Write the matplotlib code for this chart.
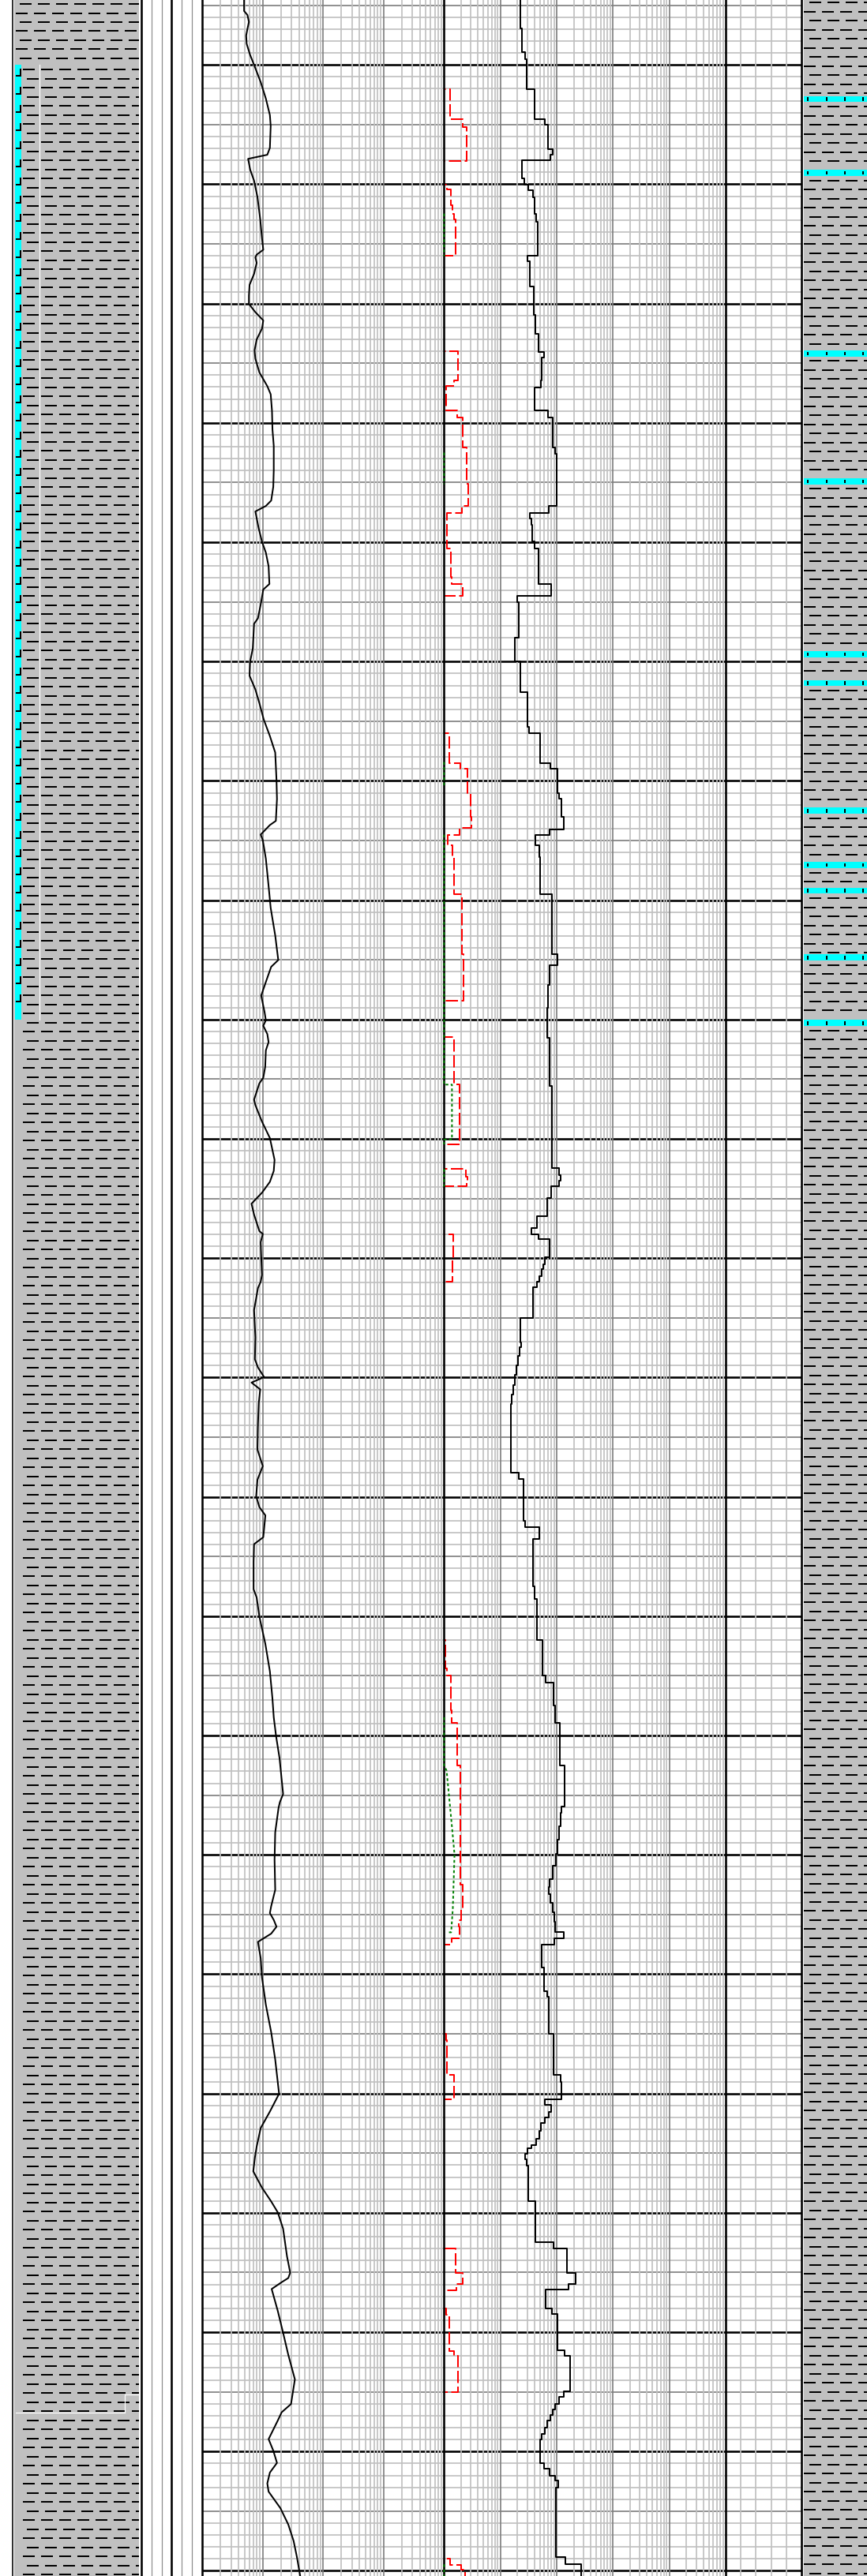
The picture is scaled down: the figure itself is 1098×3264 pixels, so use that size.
import numpy as np
import matplotlib
matplotlib.use("Agg")
import matplotlib.pyplot as plt
from matplotlib.collections import LineCollection
from matplotlib.patches import Rectangle

plt.rcParams['lines.scale_dashes'] = False

# ---------------------------------------------------------------- depth window (m)
DEPTH_TOP = 1994.56
DEPTH_BOT = 2210.43

# ---------------------------------------------------------------- gamma ray (track 1, linear 0-150)
gr_depth = [1994.56, 1995.48, 1995.82, 1996.40, 1996.97, 1997.54, 1998.23, 1999.15, 2000.00, 2001.44,
            2002.82, 2004.20, 2005.12, 2006.95, 2007.53, 2007.87, 2008.79, 2009.70, 2011.08, 2012.92,
            2014.52, 2015.49, 2015.90, 2016.13, 2016.59, 2017.51, 2018.43, 2019.34, 2020.03, 2020.72,
            2021.41, 2022.10, 2023.01, 2023.93, 2024.62, 2025.77, 2026.92, 2027.60, 2028.98, 2030.54,
            2031.92, 2033.98, 2035.36, 2036.51, 2036.96, 2037.42, 2038.80, 2039.95, 2040.87, 2042.01,
            2043.50, 2043.96, 2045.22, 2046.37, 2046.83, 2048.90, 2050.04, 2051.19, 2052.34, 2053.49,
            2054.86, 2056.24, 2057.62, 2059.91, 2061.52, 2063.35, 2063.70, 2064.50, 2064.96, 2066.52,
            2068.81, 2070.65, 2072.95, 2075.01, 2075.58, 2076.85, 2077.99, 2079.37, 2080.06, 2080.52,
            2081.21, 2081.89, 2082.58, 2083.96, 2084.88, 2085.34, 2086.71, 2087.17, 2088.55, 2089.93,
            2091.76, 2092.68, 2093.60, 2094.51, 2095.43, 2096.35, 2097.73, 2097.96, 2098.65, 2099.79,
            2101.40, 2101.97, 2102.50,
            2104.34, 2106.63, 2108.47, 2109.15, 2109.96, 2110.42, 2110.99, 2112.14, 2113.97, 2116.04,
            2117.42, 2118.56, 2119.94, 2120.86, 2121.55, 2123.38, 2123.96, 2125.45, 2127.74, 2128.43,
            2130.04, 2132.33, 2134.62, 2136.92, 2138.47,
            2140.01, 2141.91, 2144.90, 2145.58, 2146.04, 2148.11, 2150.40, 2152.93, 2154.30, 2154.88,
            2155.45, 2156.02, 2156.60, 2157.29, 2158.66, 2160.27, 2162.56, 2164.86, 2167.15, 2170.02,
            2171.51, 2172.89, 2174.45,
            2175.37, 2176.52, 2177.89, 2179.04, 2179.96, 2181.33, 2183.63, 2185.01, 2185.46, 2185.81,
            2186.38, 2188.22, 2190.05, 2191.89, 2193.95, 2196.02, 2196.71, 2197.40, 2198.96, 2199.92,
            2200.95, 2201.76, 2202.67, 2203.36, 2204.74, 2206.11, 2207.49, 2208.87, 2210.43]
gr_value = [26.0, 26.0, 28.1, 29.0, 28.1, 27.3, 27.6, 29.7, 32.2, 36.3,
            39.5, 42.0, 42.5, 42.0, 40.4, 28.5, 29.8, 32.2, 34.3, 36.0,
            37.1, 37.9, 33.8, 33.0, 33.8, 32.2, 29.4, 29.0, 29.0, 33.0,
            37.9, 37.1, 33.8, 32.5, 33.0, 35.5, 40.4, 42.5, 43.3, 43.6,
            44.4, 44.4, 44.1, 42.8, 39.5, 33.0, 35.0, 37.1, 39.5, 41.2,
            41.7, 37.9, 36.3, 34.6, 32.2, 31.4, 29.7, 29.4, 33.0, 35.5,
            38.2, 42.0, 45.3, 46.1, 46.4, 45.7, 42.0, 36.3, 37.6, 39.5,
            41.2, 42.5, 45.3, 47.2, 42.8, 39.5, 36.6, 38.7, 39.5, 37.9,
            40.4, 41.2, 39.5, 39.1, 37.9, 35.5, 32.2, 33.0, 37.1, 42.0,
            44.9, 44.4, 42.0, 37.1, 30.6, 32.2, 35.5, 37.6, 36.3, 36.6,
            37.1, 36.3, 34.6,
            32.2, 33.0, 32.7, 34.6, 38.4, 30.6, 36.0, 35.1, 34.6, 34.3,
            37.6, 34.3, 33.5, 35.5, 39.2, 37.9, 32.2, 31.9, 31.9, 33.8,
            35.5, 39.2, 42.0, 43.6, 44.4,
            45.8, 48.0, 50.2, 48.2, 47.4, 45.3, 44.9, 45.3, 42.8, 42.0,
            44.4, 46.1, 42.8, 34.6, 36.3, 37.1, 39.5, 42.8, 45.3, 47.7,
            42.0, 36.3, 33.8,
            32.7, 31.7, 37.1, 42.8, 46.9, 50.2, 52.6, 54.6, 53.4, 49.3,
            43.1, 46.9, 50.2, 53.4, 57.5, 55.1, 49.3, 46.9, 41.2, 44.1,
            46.4, 42.0, 40.4, 41.2, 48.5, 53.4, 56.7, 58.8, 60.8]

# ---------------------------------------------------------------- blocked log (track 2, linear 0-100)
blk_top = [1994.56, 1996.97, 1998.92, 1999.49, 2002.02, 2002.59, 2004.54, 2005.00, 2007.07, 2007.53,
           2007.99, 2009.48, 2010.05, 2010.51, 2011.08, 2012.46, 2013.15, 2016.02, 2016.48, 2018.54,
           2020.95, 2022.56, 2024.05, 2024.51, 2026.46, 2027.03, 2028.98, 2029.56, 2032.03, 2032.61,
           2036.97, 2037.54, 2038.00, 2038.57, 2039.95, 2040.52, 2043.51, 2044.47, 2045.00, 2047.98,
           2050.00, 2052.53, 2055.44, 2056.01, 2058.54, 2058.99, 2061.06, 2061.52, 2063.01, 2064.05,
           2064.51, 2065.42, 2066.40, 2069.50, 2074.55, 2075.47, 2077.08, 2079.03, 2081.55, 2085.57,
           2092.45, 2093.03, 2093.49, 2093.94, 2094.98, 2096.47, 2097.50, 2098.01, 2098.42, 2099.91,
           2100.49, 2100.94, 2101.52, 2101.98, 2102.40, 2105.02, 2107.09, 2107.43, 2108.20, 2109.00,
           2109.80, 2110.60, 2111.40, 2112.20, 2113.00, 2117.99, 2118.50, 2122.01, 2122.51, 2123.50,
           2127.52, 2128.55, 2131.99, 2134.97, 2135.55, 2137.50, 2138.93, 2142.49, 2145.93, 2146.50,
           2147.60, 2148.70, 2149.90, 2150.90, 2152.00, 2152.70, 2153.30, 2154.00, 2154.80, 2155.60,
           2156.49, 2157.01, 2157.52, 2159.47, 2161.42, 2161.88, 2164.98, 2168.42, 2169.00, 2170.49,
           2170.95, 2171.52, 2171.98, 2172.44, 2173.13, 2173.81, 2174.30, 2174.56, 2175.02, 2175.48,
           2176.06, 2179.04, 2182.48, 2182.99, 2185.01, 2185.93, 2186.43, 2187.99, 2188.50, 2191.50,
           2192.01, 2194.94, 2195.45, 2196.02, 2196.48, 2196.94, 2197.40, 2197.97, 2198.55, 2199.01,
           2200.96, 2201.42, 2202.00, 2202.45, 2203.02, 2208.87, 2209.45]
blk_value = [27.1, 27.6, 28.7, 29.4, 32.0, 32.2, 35.7, 36.8, 38.5, 37.8,
             27.6, 28.4, 29.9, 31.5, 32.2, 32.7, 33.2, 29.6, 30.4, 31.8,
             32.3, 33.4, 35.4, 34.8, 34.3, 32.0, 36.9, 38.6, 39.5, 40.1,
             37.3, 30.4, 30.9, 31.3, 32.2, 33.4, 38.1, 25.9, 26.5, 25.2,
             27.1, 29.5, 30.1, 34.0, 37.8, 40.4, 40.9, 41.8, 42.4, 37.4,
             32.4, 33.8, 34.1, 38.3, 40.2, 37.6, 36.9, 36.5, 37.4, 38.3,
             40.7, 41.3, 40.9, 37.9, 36.5, 32.9, 31.0, 33.4, 37.4, 35.7,
             35.2, 34.6, 33.8, 32.9, 31.7, 27.0, 27.3, 26.9, 26.3, 25.6,
             25.0, 24.5, 24.1, 23.8, 23.6, 26.6, 28.1, 28.7, 33.7, 31.7,
             32.2, 32.9, 35.0, 36.0, 38.8, 39.5, 41.1, 42.9, 41.8, 41.5,
             40.9, 40.3, 39.7, 38.7, 37.6, 37.1, 37.8, 38.6, 39.1, 39.5,
             42.4, 39.2, 34.8, 35.5, 36.5, 37.1, 38.8, 41.3, 41.8, 35.7,
             38.1, 37.1, 35.7, 34.3, 33.7, 32.7, 31.0, 29.6, 28.7, 29.2,
             29.9, 32.4, 39.0, 43.7, 46.8, 44.1, 36.0, 38.3, 40.2, 42.7,
             44.8, 42.4, 40.9, 39.5, 38.5, 37.8, 36.7, 35.7, 34.8, 34.1,
             35.5, 37.4, 39.3, 40.6, 39.6, 43.2, 48.6]

# ---------------------------------------------------------------- deep resistivity (red, track 2)
rd_top = [1994.56, 2002.02, 2004.54, 2005.23, 2008.03, 2010.05, 2010.40, 2011.77, 2012.46, 2012.92,
          2016.02, 2024.00, 2026.46, 2026.92, 2028.98, 2029.56, 2032.03, 2035.13, 2036.97, 2037.54,
          2040.52, 2042.93, 2043.51, 2044.47, 2056.01, 2058.49, 2058.99, 2061.06, 2063.01, 2063.93,
          2064.51, 2065.42, 2066.40, 2069.50, 2074.55, 2078.45, 2081.44, 2085.45, 2090.46, 2092.52,
          2093.14, 2093.49, 2093.99, 2098.01, 2100.03, 2101.98, 2131.99, 2134.40, 2134.97, 2137.90,
          2138.93, 2142.49, 2152.47, 2154.54, 2155.45, 2156.03, 2157.01, 2157.52, 2164.98, 2165.55,
          2168.42, 2170.49, 2182.99, 2185.01, 2185.93, 2186.50, 2187.99, 2188.56, 2191.55, 2192.01,
          2194.99, 2208.99, 2209.52, 2209.91]
rd_value = [0.0, 2.1, 6.7, 8.1, 0.0, 0.9, 2.3, 3.0, 3.5, 4.1,
            0.0, 5.0, 3.5, 0.7, 4.7, 6.7, 8.1, 8.6, 6.3, 1.1,
            2.5, 2.8, 6.5, 0.0, 1.9, 5.8, 8.3, 9.3, 9.7, 5.6,
            1.3, 3.0, 3.5, 6.2, 7.0, 0.0, 3.6, 5.6, 0.0, 7.7,
            8.3, 7.9, 0.0, 3.2, 2.9, 0.0, 0.5, 0.9, 2.3, 2.8,
            4.7, 5.8, 6.7, 6.1, 5.1, 5.5, 2.8, 0.0, 0.7, 1.1,
            3.4, 0.0, 4.1, 6.5, 4.4, 0.0, 0.8, 1.8, 3.5, 5.0,
            0.0, 2.1, 6.1, 7.4]

# ---------------------------------------------------------------- shallow resistivity (green, track 2)
rs_depth = [2012.46, 2016.02, np.nan,
            2032.49, 2035.13, np.nan,
            2058.42, 2060.37, np.nan,
            2064.51, 2085.45, 2085.45, 2090.05, 2090.05, 2090.46, np.nan,
            2092.52, 2093.99, np.nan,
            2138.47, 2142.49, 2142.95, 2147.65, 2149.95, 2154.54, 2156.49, 2156.49, np.nan,
            2209.45, 2210.43]
rs_value = [0.0, 0.0, np.nan,
            0.0, 0.0, np.nan,
            0.0, 0.0, np.nan,
            0.0, 0.0, 2.8, 2.8, 0.0, 0.0, np.nan,
            0.0, 0.0, np.nan,
            0.0, 0.0, 0.9, 2.8, 3.7, 3.1, 2.5, 1.1, np.nan,
            0.0, 0.0]

# ---------------------------------------------------------------- shows / interpretation intervals
show_col_top, show_col_bot = 2000.0, 2080.0
show_top = [2002.61, 2008.79, 2023.93, 2034.64, 2049.14, 2051.54, 2062.24, 2066.79, 2068.94, 2074.54, 2080.04]
show_bot = [2003.12, 2009.30, 2024.44, 2035.15, 2049.65, 2052.05, 2062.75, 2067.30, 2069.45, 2075.05, 2080.55]

# lithology bed boundary in the left column (depth top / bottom of the step)
bed_step_top, bed_step_bot = 2195.22, 2196.74

# ================================================================ layout
W, H, DPI = 1098, 3264, 100
PX_PER_M = H / (DEPTH_BOT - DEPTH_TOP)
X_A0, X_AB, X_BC, X_C1 = 256.0, 562.4, 919.0, 1015.0

LIGHT = '#c0c0c0'
DARK = '#808080'


def pt(px):
    return px * 72.0 / DPI


fig = plt.figure(figsize=(W / DPI, H / DPI), dpi=DPI, facecolor='white')


def track(x0, x1, z, xlim, xscale='linear'):
    ax = fig.add_axes([x0 / W, 0, (x1 - x0) / W, 1])
    ax.set_zorder(z)
    ax.set_xscale(xscale)
    ax.set_xlim(*xlim)
    ax.set_ylim(DEPTH_BOT, DEPTH_TOP)
    ax.axis('off')
    ax.patch.set_alpha(0)
    return ax


# depth grid lines across the log tracks
ax_h = track(X_A0, X_C1, 1, (0, 1))
for d in range(int(np.ceil(DEPTH_TOP)), int(DEPTH_BOT) + 1):
    if d % 10 == 0:
        ax_h.axhline(d, color='black', lw=pt(2.6), zorder=3)
    elif d % 5 == 0:
        ax_h.axhline(d, color=DARK, lw=pt(1.7), zorder=2)
    else:
        ax_h.axhline(d, color=LIGHT, lw=pt(1.7), zorder=1)

# logarithmic value grids
ax_a = track(X_A0, X_AB, 2, (1, 1e4), 'log')
ax_b = track(X_AB, X_BC, 2, (1, 1e5), 'log')
for ax, ndec in ((ax_a, 4), (ax_b, 5)):
    for n in range(ndec):
        for k in range(2, 10):
            ax.axvline(k * 10 ** n, color=LIGHT, lw=pt(1.7), zorder=1)
        if n > 0:
            ax.axvline(10 ** n, color=DARK, lw=pt(1.7), zorder=2)

ax_c = track(X_BC, X_C1, 2, (0, 5))
for v in range(1, 5):
    ax_c.axvline(v, color=LIGHT, lw=pt(1.7))


def blocky(tops, vals, bottom):
    edges = np.append(np.asarray(tops, float), bottom)
    return np.repeat(np.asarray(vals, float), 2), np.repeat(edges, 2)[1:-1]


# curves
ax_gr = track(X_A0, X_AB, 3, (0, 150))
ax_gr.plot(gr_value, gr_depth, color='black', lw=pt(2.0), solid_joinstyle='round')

ax_r = track(X_AB, X_BC, 3, (0, 100))
bx, by = blocky(blk_top, blk_value, DEPTH_BOT)
ax_r.plot(bx, by, color='black', lw=pt(2.0))
rx, ry = blocky(rd_top, rd_value, DEPTH_BOT)
ax_r.plot(rx, ry, color='#ff0000', lw=pt(2.0), dashes=(pt(15.5), pt(4.5)))

# frame, depth column and lithology columns (x in pixels, y in depth)
ax_f = track(0, W, 4, (0, W))

for x in (X_A0, X_AB, X_BC, X_C1):
    ax_f.axvline(x, color='black', lw=pt(2.6), zorder=6)
for x in (179.0, 217.0):
    ax_f.axvline(x, color='black', lw=pt(2.6), zorder=6)
for x in (192.0, 204.5, 230.0, 243.0):
    ax_f.axvline(x, color='#8c8c8c', lw=pt(1.2), zorder=6)
ax_f.axvline(16.0, color='black', lw=pt(1.6), zorder=6)

# lithology fills
ax_f.add_patch(Rectangle((18.0, DEPTH_TOP), 176.0 - 18.0, DEPTH_BOT - DEPTH_TOP,
                         facecolor=LIGHT, edgecolor='none', zorder=1))
ax_f.add_patch(Rectangle((1017.5, DEPTH_TOP), W - 1017.5, DEPTH_BOT - DEPTH_TOP,
                         facecolor=LIGHT, edgecolor='none', zorder=1))


def shale(x0, x1, d0, d1, lead_px, offs=(7.0, 1.5)):
    segs = []
    gap = 11.5 / PX_PER_M
    d = d0 + lead_px / PX_PER_M
    i = 0
    while d < d1 - 1.0 / PX_PER_M:
        x = x0 + offs[i % 2]
        while x < x1:
            segs.append([(x, d), (min(x + 15.0, x1), d)])
            x += 23.0
        d += gap
        i += 1
    ax_f.add_collection(LineCollection(segs, colors='black', linewidths=pt(2.0),
                                       capstyle='butt', zorder=3))


# left column
shale(18.0, 176.0, DEPTH_TOP, show_col_top, 5.0)
shale(27.0, 176.0, show_col_top, DEPTH_BOT, 6.0, offs=(1.5, 6.5))
ax_f.add_patch(Rectangle((19.0, show_col_top), 8.0, show_col_bot - show_col_top,
                         facecolor='#00ffff', edgecolor='none', zorder=2))
ax_f.plot([50, 50], [show_col_top, show_col_bot], color='white', lw=pt(1.2), zorder=2)
ax_f.plot([20, 158, 158, 175], [bed_step_bot, bed_step_bot, bed_step_top, bed_step_top],
          color='white', lw=pt(1.2), zorder=4)
marks = []
d = show_col_top + 5.0 / PX_PER_M
while d < show_col_bot - 9.0 / PX_PER_M:
    d2 = d + 9.0 / PX_PER_M
    marks.append([(25.5, d), (25.5, d2)])
    marks.append([(20.0, d2), (26.5, d2)])
    d += 23.0 / PX_PER_M
ax_f.add_collection(LineCollection(marks, colors='black', linewidths=pt(2.0), zorder=4))

# right column
bounds = [DEPTH_TOP] + [v for pair in zip(show_top, show_bot) for v in pair] + [DEPTH_BOT]
for j in range(0, len(bounds), 2):
    lead = 3.2 if j == 0 else 5.7
    shale(1017.5, W, bounds[j], bounds[j + 1], lead, offs=(7.0, 0.7))
ticks = []
for t, b in zip(show_top, show_bot):
    ax_f.add_patch(Rectangle((1017.5, t), W - 1017.5, b - t,
                             facecolor='#00ffff', edgecolor='none', zorder=2))
    for x in (1023.0, 1046.5, 1069.8, 1093.0):
        ticks.append([(x, t + 0.1), (x, b - 0.1)])
ax_f.add_collection(LineCollection(ticks, colors='black', linewidths=pt(2.0), zorder=4))

# shallow curve drawn above the track border
ax_s = track(X_AB, X_BC, 5, (0, 100))
ax_s.plot(rs_value, rs_depth, color='#008000', lw=pt(2.0), dashes=(pt(3.5), pt(3.0)),
          clip_on=False)

fig.savefig('out.png', dpi=DPI, facecolor='white')
